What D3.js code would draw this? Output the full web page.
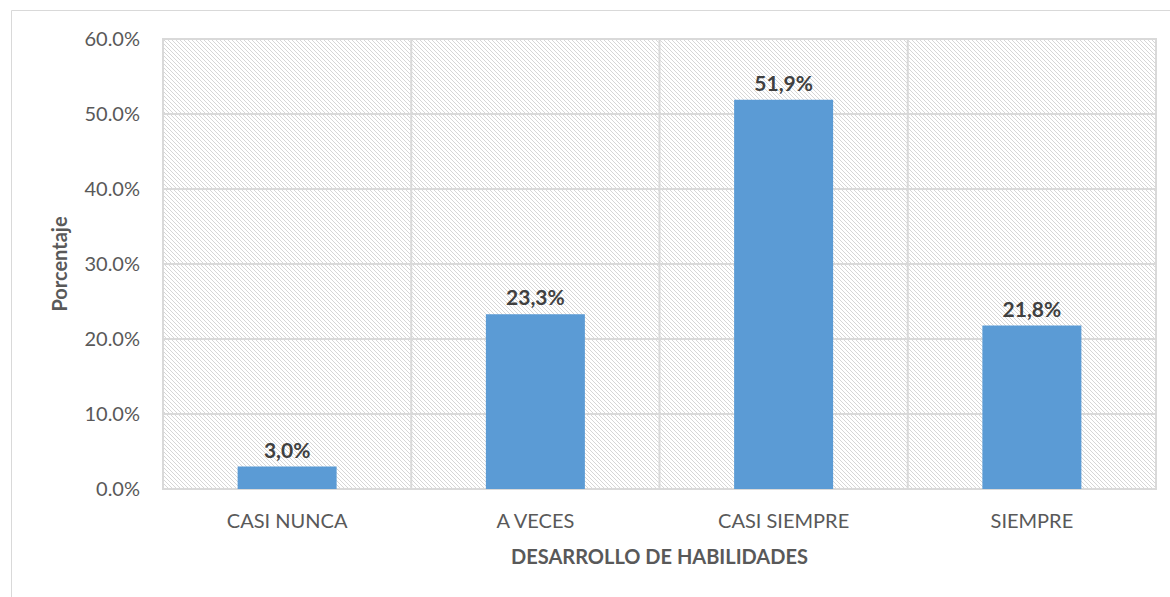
<!DOCTYPE html>
<html>
<head>
<script src="https://d3js.org/d3.v7.min.js"></script>
<style>
  body { margin: 0; background: #fff; }
  text { font-family: Lato, "Open Sans", sans-serif; fill: #595959; }
</style>
</head>
<body>
<svg width="1170" height="597"></svg>
<script>
var categories = ["CASI NUNCA", "A VECES", "CASI SIEMPRE", "SIEMPRE"];
var values = [3.0, 23.3, 51.9, 21.8];
var labels = ["3,0%", "23,3%", "51,9%", "21,8%"];
var yTicks = [0, 10, 20, 30, 40, 50, 60];

var svg = d3.select("svg");
var margin = {left: 163, right: 1156, top: 39, bottom: 489};

// outer chart border (only top and left visible in the picture)
svg.append("path")
  .attr("d", "M11.5,597 V10.5 H1170")
  .attr("fill", "none")
  .attr("stroke", "#d9d9d9");

// pixel diagonal hatch like the Excel pattern fill
var defs = svg.append("defs");
var pat = defs.append("pattern")
  .attr("id", "hatch")
  .attr("patternUnits", "userSpaceOnUse")
  .attr("width", 4).attr("height", 4);
pat.selectAll("rect")
  .data([0, 1, 2, 3])
  .enter().append("rect")
  .attr("x", function(d) { return d; })
  .attr("y", function(d) { return d; })
  .attr("width", 1).attr("height", 1)
  .attr("fill", "#d6d6d6")
  .attr("shape-rendering", "crispEdges");

var x = d3.scaleBand()
  .domain(categories)
  .range([margin.left, margin.right])
  .paddingInner(0)
  .paddingOuter(0);

var y = d3.scaleLinear()
  .domain([0, 60])
  .range([margin.bottom, margin.top]);

// plot area
svg.append("rect")
  .attr("x", margin.left).attr("y", margin.top)
  .attr("width", margin.right - margin.left)
  .attr("height", margin.bottom - margin.top)
  .attr("fill", "url(#hatch)")
  .attr("stroke", "#d9d9d9")
  .attr("stroke-width", 2);

// horizontal gridlines
svg.selectAll(".hgrid")
  .data(yTicks)
  .enter().append("line")
  .attr("x1", margin.left).attr("x2", margin.right)
  .attr("y1", function(d) { return y(d); })
  .attr("y2", function(d) { return y(d); })
  .attr("stroke", "#d9d9d9")
  .attr("stroke-width", 2);

// vertical gridlines between categories
svg.selectAll(".vgrid")
  .data(categories.slice(1))
  .enter().append("line")
  .attr("x1", function(d) { return x(d); })
  .attr("x2", function(d) { return x(d); })
  .attr("y1", margin.top).attr("y2", margin.bottom)
  .attr("stroke", "#d9d9d9")
  .attr("stroke-width", 2);

// y tick labels
svg.selectAll(".ylab")
  .data(yTicks)
  .enter().append("text")
  .attr("x", 140)
  .attr("y", function(d) { return y(d); })
  .attr("dy", "0.35em")
  .attr("text-anchor", "end")
  .style("font-size", "20px")
  .text(function(d) { return d.toFixed(1) + "%"; });

// bars
var barW = 99;
svg.selectAll(".bar")
  .data(values)
  .enter().append("rect")
  .attr("x", function(d, i) { return x(categories[i]) + x.bandwidth() / 2 - barW / 2; })
  .attr("y", function(d) { return y(d); })
  .attr("width", barW)
  .attr("height", function(d) { return y(0) - y(d); })
  .attr("fill", "#5b9bd5");

// bar labels
svg.selectAll(".blab")
  .data(values)
  .enter().append("text")
  .attr("x", function(d, i) { return x(categories[i]) + x.bandwidth() / 2; })
  .attr("y", function(d) { return y(d) - 9; })
  .attr("text-anchor", "middle")
  .style("font-size", "21px")
  .style("font-weight", "bold")
  .style("fill", "#404040")
  .text(function(d, i) { return labels[i]; });

// x tick labels
svg.selectAll(".xlab")
  .data(categories)
  .enter().append("text")
  .attr("x", function(d) { return x(d) + x.bandwidth() / 2; })
  .attr("y", 528)
  .attr("text-anchor", "middle")
  .style("font-size", "20px")
  .text(function(d) { return d; });

// axis titles
svg.append("text")
  .attr("x", (margin.left + margin.right) / 2)
  .attr("y", 564)
  .attr("text-anchor", "middle")
  .style("font-size", "20px")
  .style("font-weight", "bold")
  .text("DESARROLLO DE HABILIDADES");

svg.append("text")
  .attr("transform", "translate(67," + ((margin.top + margin.bottom) / 2) + ") rotate(-90)")
  .attr("text-anchor", "middle")
  .style("font-size", "20px")
  .style("font-weight", "bold")
  .text("Porcentaje");
</script>
</body>
</html>
